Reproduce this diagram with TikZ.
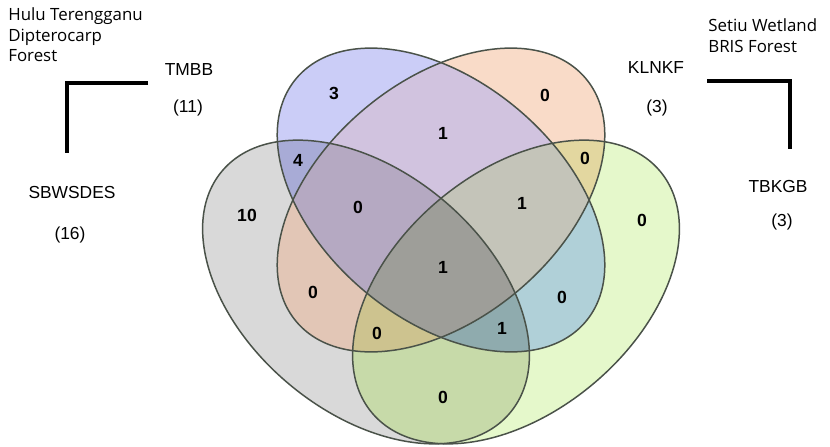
\documentclass[tikz,border=0pt]{standalone}
\usepackage{fontspec}
\setsansfont{Liberation Sans}
\newfontfamily\notefont{Open Sans}
\usetikzlibrary{positioning}
%Farben der Bereiche
\definecolor{tmbbonly}{HTML}{CBCDF7}
\definecolor{klnkfonly}{HTML}{F9DBC8}
\definecolor{sbwsonly}{HTML}{D9D9D9}
\definecolor{tbkgbonly}{HTML}{E5F8CB}
\definecolor{tmbbklnkf}{HTML}{D1C3DF}
\definecolor{tmbbsbws}{HTML}{A8ABD6}
\definecolor{tmbbtbkgb}{HTML}{B0D0D8}
\definecolor{klnkfsbws}{HTML}{E2C6B6}
\definecolor{klnkftbkgb}{HTML}{E3D7A0}
\definecolor{sbwstbkgb}{HTML}{C7DAA9}
\definecolor{tmbbklnkfsbws}{HTML}{B5A9C2}
\definecolor{tmbbklnkftbkgb}{HTML}{C4C4B9}
\definecolor{tmbbsbwstbkgb}{HTML}{8FABAE}
\definecolor{klnkfsbwstbkgb}{HTML}{CDC38F}
\definecolor{allfour}{HTML}{9E9E99}
\definecolor{setedge}{HTML}{4A5249}
\tikzset{
	tmbbpos/.style={shift={(441,200)}, rotate=-40},
	klnkfpos/.style={shift={(441,200)}, rotate=40},
	sbwspos/.style={shift={(366,292)}, rotate=-40},
	tbkgbpos/.style={shift={(516,292)}, rotate=40},
	setline/.style={draw=setedge, line width=0.85pt},
	count/.style={font=\sffamily\bfseries\fontsize{10}{12}\selectfont, inner sep=0pt},
	setname/.style={font=\sffamily\fontsize{9.9}{12}\selectfont, inner sep=0pt},
	sitename/.style={font=\notefont\fontsize{9.6}{11.9}\selectfont, align=left, inner sep=0pt, anchor=north west, text=black},
	bracket/.style={line width=1.9pt}
}
\newcommand{\smallset}{(0,0) ellipse [x radius=189, y radius=119]}
\newcommand{\bigset}{(0,0) ellipse [x radius=188, y radius=120]}
\begin{document}
\begin{tikzpicture}[x=0.02cm, y=-0.02cm]
	\useasboundingbox (0,0) rectangle (830,446);
	%einzelne Mengen
	\fill[sbwspos, sbwsonly] \bigset;
	\fill[tbkgbpos, tbkgbonly] \bigset;
	\fill[tmbbpos, tmbbonly] \smallset;
	\fill[klnkfpos, klnkfonly] \smallset;
	%zwei Mengen
	\begin{scope}\clip[tmbbpos] \smallset; \fill[klnkfpos, tmbbklnkf] \smallset; \end{scope}
	\begin{scope}\clip[tmbbpos] \smallset; \fill[sbwspos, tmbbsbws] \bigset; \end{scope}
	\begin{scope}\clip[tmbbpos] \smallset; \fill[tbkgbpos, tmbbtbkgb] \bigset; \end{scope}
	\begin{scope}\clip[klnkfpos] \smallset; \fill[sbwspos, klnkfsbws] \bigset; \end{scope}
	\begin{scope}\clip[klnkfpos] \smallset; \fill[tbkgbpos, klnkftbkgb] \bigset; \end{scope}
	\begin{scope}\clip[sbwspos] \bigset; \fill[tbkgbpos, sbwstbkgb] \bigset; \end{scope}
	%drei Mengen
	\begin{scope}\clip[tmbbpos] \smallset; \clip[klnkfpos] \smallset; \fill[sbwspos, tmbbklnkfsbws] \bigset; \end{scope}
	\begin{scope}\clip[tmbbpos] \smallset; \clip[klnkfpos] \smallset; \fill[tbkgbpos, tmbbklnkftbkgb] \bigset; \end{scope}
	\begin{scope}\clip[tmbbpos] \smallset; \clip[sbwspos] \bigset; \fill[tbkgbpos, tmbbsbwstbkgb] \bigset; \end{scope}
	\begin{scope}\clip[klnkfpos] \smallset; \clip[sbwspos] \bigset; \fill[tbkgbpos, klnkfsbwstbkgb] \bigset; \end{scope}
	%alle vier
	\begin{scope}\clip[tmbbpos] \smallset; \clip[klnkfpos] \smallset; \clip[sbwspos] \bigset; \fill[tbkgbpos, allfour] \bigset; \end{scope}
	%Raender
	\draw[setline, sbwspos] \bigset;
	\draw[setline, tbkgbpos] \bigset;
	\draw[setline, tmbbpos] \smallset;
	\draw[setline, klnkfpos] \smallset;
	%Anzahlen
	\node[count] (ntmbb) at (334,93) {3};
	\node[count] (nklnkf) at (545,95) {0};
	\node[count] (ntmbbklnkf) at (443,133) {1};
	\node[count] (ntmbbsbws) at (298,160) {4};
	\node[count] (nklnkftbkgb) at (585,158) {0};
	\node[count] (nsbws) at (247,215) {10};
	\node[count] (ntmbbklnkfsbws) at (358,207) {0};
	\node[count] (ntmbbklnkftbkgb) at (522,203) {1};
	\node[count] (ntbkgb) at (642,220) {0};
	\node[count] (nall) at (443,267) {1};
	\node[count] (nklnkfsbws) at (313,292) {0};
	\node[count] (ntmbbtbkgb) at (562,297) {0};
	\node[count] (nklnkfsbwstbkgb) at (377,333) {0};
	\node[count] (ntmbbsbwstbkgb) at (502,328) {1};
	\node[count] (nsbwstbkgb) at (443,397) {0};
	%Namen
	\node[setname] (tmbb) at (189,70) {TMBB};
	\node[setname] (tmbbsum) at (188,108) {(11)};
	\node[setname] (sbws) at (72,193) {SBWSDES};
	\node[setname] (sbwssum) at (70,235) {(16)};
	\node[setname] (klnkf) at (656,68) {KLNKF};
	\node[setname] (klnkfsum) at (657,108) {(3)};
	\node[setname] (tbkgb) at (778,187) {TBKGB};
	\node[setname] (tbkgbsum) at (782,222) {(3)};
	%Gebiete
	\node[sitename] (hulu) at (8,7) {Hulu Terengganu\\Dipterocarp\\Forest};
	\node[sitename] (setiu) at (708,18) {Setiu Wetland\\BRIS Forest};
	%Klammern
	\coordinate (lefttop) at (148,83);
	\coordinate (leftcorner) at (67,83);
	\coordinate (leftbottom) at (67,153);
	\coordinate (righttop) at (707,81);
	\coordinate (rightcorner) at (790,81);
	\coordinate (rightbottom) at (790,149);
	\draw[bracket] (lefttop) -- (leftcorner) -- (leftbottom);
	\draw[bracket] (righttop) -- (rightcorner) -- (rightbottom);
\end{tikzpicture}
\end{document}
